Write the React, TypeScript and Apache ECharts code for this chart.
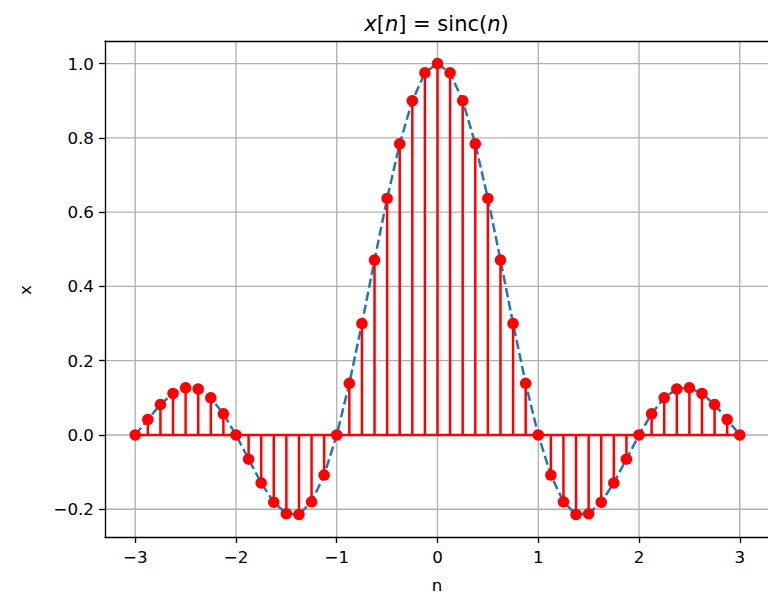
import React, { useEffect, useRef } from "react";
import * as echarts from "echarts";

// Sample positions n and the sampled signal x[n] = sinc(n)
const nValues: number[] = [
  -3, -2.875, -2.75, -2.625, -2.5, -2.375, -2.25, -2.125,
  -2, -1.875, -1.75, -1.625, -1.5, -1.375, -1.25, -1.125,
  -1, -0.875, -0.75, -0.625, -0.5, -0.375, -0.25, -0.125,
  0, 0.125, 0.25, 0.375, 0.5, 0.625, 0.75, 0.875,
  1, 1.125, 1.25, 1.375, 1.5, 1.625, 1.75, 1.875,
  2, 2.125, 2.25, 2.375, 2.5, 2.625, 2.75, 2.875, 3,
];

const xValues: number[] = [
  0, 0.042, 0.082, 0.112, 0.127, 0.124, 0.1, 0.057,
  0, -0.065, -0.129, -0.181, -0.212, -0.214, -0.18, -0.108,
  0, 0.139, 0.3, 0.471, 0.637, 0.784, 0.9, 0.975,
  1, 0.975, 0.9, 0.784, 0.637, 0.471, 0.3, 0.139,
  0, -0.108, -0.18, -0.214, -0.212, -0.181, -0.129, -0.065,
  0, 0.057, 0.1, 0.124, 0.127, 0.112, 0.082, 0.042, 0,
];

const xTicks: number[] = [-3, -2, -1, 0, 1, 2, 3];
const yTicks: number[] = [-0.2, 0, 0.2, 0.4, 0.6, 0.8, 1.0];

const FONT = "DejaVu Sans";
const minus = (s: string) => s.replace("-", "\u2212");

const X_MIN = -3.3;
const X_MAX = 3.3;
const Y_MIN = -0.2746;
const Y_MAX = 1.0607;

export default function App() {
  const ref = useRef<HTMLDivElement>(null);

  useEffect(() => {
    if (!ref.current) return;
    const chart = echarts.init(ref.current, undefined, { renderer: "svg" });
    const points = nValues.map((n, i) => [n, xValues[i]]);
    const GRID_COLOR = "#b0b0b0";
    const spine = { show: true, onZero: false, lineStyle: { color: "#000", width: 1.33 } };
    const tickStyle = { color: "#000", width: 1.33 };
    const bareSpine = {
      type: "value" as const,
      axisLine: spine,
      axisTick: { show: false },
      axisLabel: { show: false },
      splitLine: { show: false },
    };

    chart.setOption({
      animation: false,
      backgroundColor: "#ffffff",
      grid: {
        left: 105,
        top: 41,
        width: 665,
        height: 496,
        show: false,
        containLabel: false,
      },
      xAxis: [
        {
          type: "value",
          position: "bottom",
          min: X_MIN,
          max: X_MAX,
          axisLine: spine,
          splitLine: { show: false },
          axisTick: {
            show: true,
            inside: false,
            length: 6,
            customValues: xTicks,
            lineStyle: tickStyle,
          },
          axisLabel: {
            customValues: xTicks,
            margin: 11,
            fontFamily: FONT,
            fontSize: 16.7,
            color: "#000",
            formatter: (v: number) => minus(String(v)),
          },
        },
        { ...bareSpine, position: "top", min: X_MIN, max: X_MAX },
      ],
      yAxis: [
        {
          type: "value",
          position: "left",
          min: Y_MIN,
          max: Y_MAX,
          axisLine: spine,
          splitLine: { show: false },
          axisTick: {
            show: true,
            inside: false,
            length: 6,
            customValues: yTicks,
            lineStyle: tickStyle,
          },
          axisLabel: {
            customValues: yTicks,
            margin: 11,
            fontFamily: FONT,
            fontSize: 16.7,
            color: "#000",
            formatter: (v: number) => minus(v.toFixed(1)),
          },
        },
        { ...bareSpine, position: "right", min: Y_MIN, max: Y_MAX },
      ],
      graphic: [
        {
          type: "text",
          x: 436.5,
          y: 24,
          style: {
            text: "{i|x}[{i|n}] = sinc({i|n})",
            align: "center",
            verticalAlign: "middle",
            fontFamily: FONT,
            fontSize: 21,
            fill: "#000",
            rich: {
              i: { fontStyle: "italic", fontFamily: FONT, fontSize: 21, fill: "#000" },
            },
          },
        },
        {
          type: "text",
          x: 437,
          y: 585,
          style: {
            text: "n",
            align: "center",
            verticalAlign: "middle",
            fontFamily: FONT,
            fontSize: 16.7,
            lineHeight: 16,
            fill: "#000",
          },
        },
        {
          type: "text",
          x: 25,
          y: 290,
          rotation: Math.PI / 2,
          style: {
            text: "x",
            align: "center",
            verticalAlign: "middle",
            fontFamily: FONT,
            fontSize: 16.7,
            fill: "#000",
          },
        },
      ],
      series: [
        {
          // vertical grid lines at the x ticks
          type: "custom",
          data: xTicks.map((t) => [t, 0]),
          silent: true,
          z: 0,
          renderItem: (params: any, api: any) => {
            const cs = params.coordSys;
            const px = api.coord([api.value(0), 0])[0];
            return {
              type: "line",
              shape: { x1: px, y1: cs.y, x2: px, y2: cs.y + cs.height },
              style: { stroke: GRID_COLOR, lineWidth: 1.33 },
            };
          },
        },
        {
          // horizontal grid lines at the y ticks
          type: "custom",
          data: yTicks.map((t) => [0, t]),
          silent: true,
          z: 0,
          renderItem: (params: any, api: any) => {
            const cs = params.coordSys;
            const py = api.coord([0, api.value(1)])[1];
            return {
              type: "line",
              shape: { x1: cs.x, y1: py, x2: cs.x + cs.width, y2: py },
              style: { stroke: GRID_COLOR, lineWidth: 1.33 },
            };
          },
        },
        {
          // dashed continuous curve through the samples
          type: "line",
          data: points,
          showSymbol: false,
          symbol: "none",
          z: 2,
          lineStyle: { color: "#1f77b4", width: 2.5, type: [9.25, 4] },
        },
        {
          // stem lines
          type: "custom",
          data: points,
          z: 3,
          renderItem: (params: any, api: any) => {
            const n = api.value(0);
            const v = api.value(1);
            const p0 = api.coord([n, 0]);
            const p1 = api.coord([n, v]);
            return {
              type: "line",
              shape: { x1: p0[0], y1: p0[1], x2: p1[0], y2: p1[1] },
              style: { stroke: "#ff0000", lineWidth: 2.5 },
            };
          },
        },
        {
          // baseline
          type: "line",
          data: [
            [nValues[0], 0],
            [nValues[nValues.length - 1], 0],
          ],
          symbol: "none",
          z: 4,
          lineStyle: { color: "#ff0000", width: 2.5 },
        },
        {
          // markers
          type: "scatter",
          data: points,
          symbol: "circle",
          symbolSize: 11.5,
          z: 5,
          itemStyle: { color: "#ff0000", opacity: 1 },
        },
      ],
    });

    return () => chart.dispose();
  }, []);

  return (
    <div
      style={{
        position: "absolute",
        left: 0,
        top: 0,
        width: 768,
        height: 594,
        overflow: "hidden",
      }}
    >
      <div ref={ref} style={{ width: 800, height: 594 }} />
    </div>
  );
}
